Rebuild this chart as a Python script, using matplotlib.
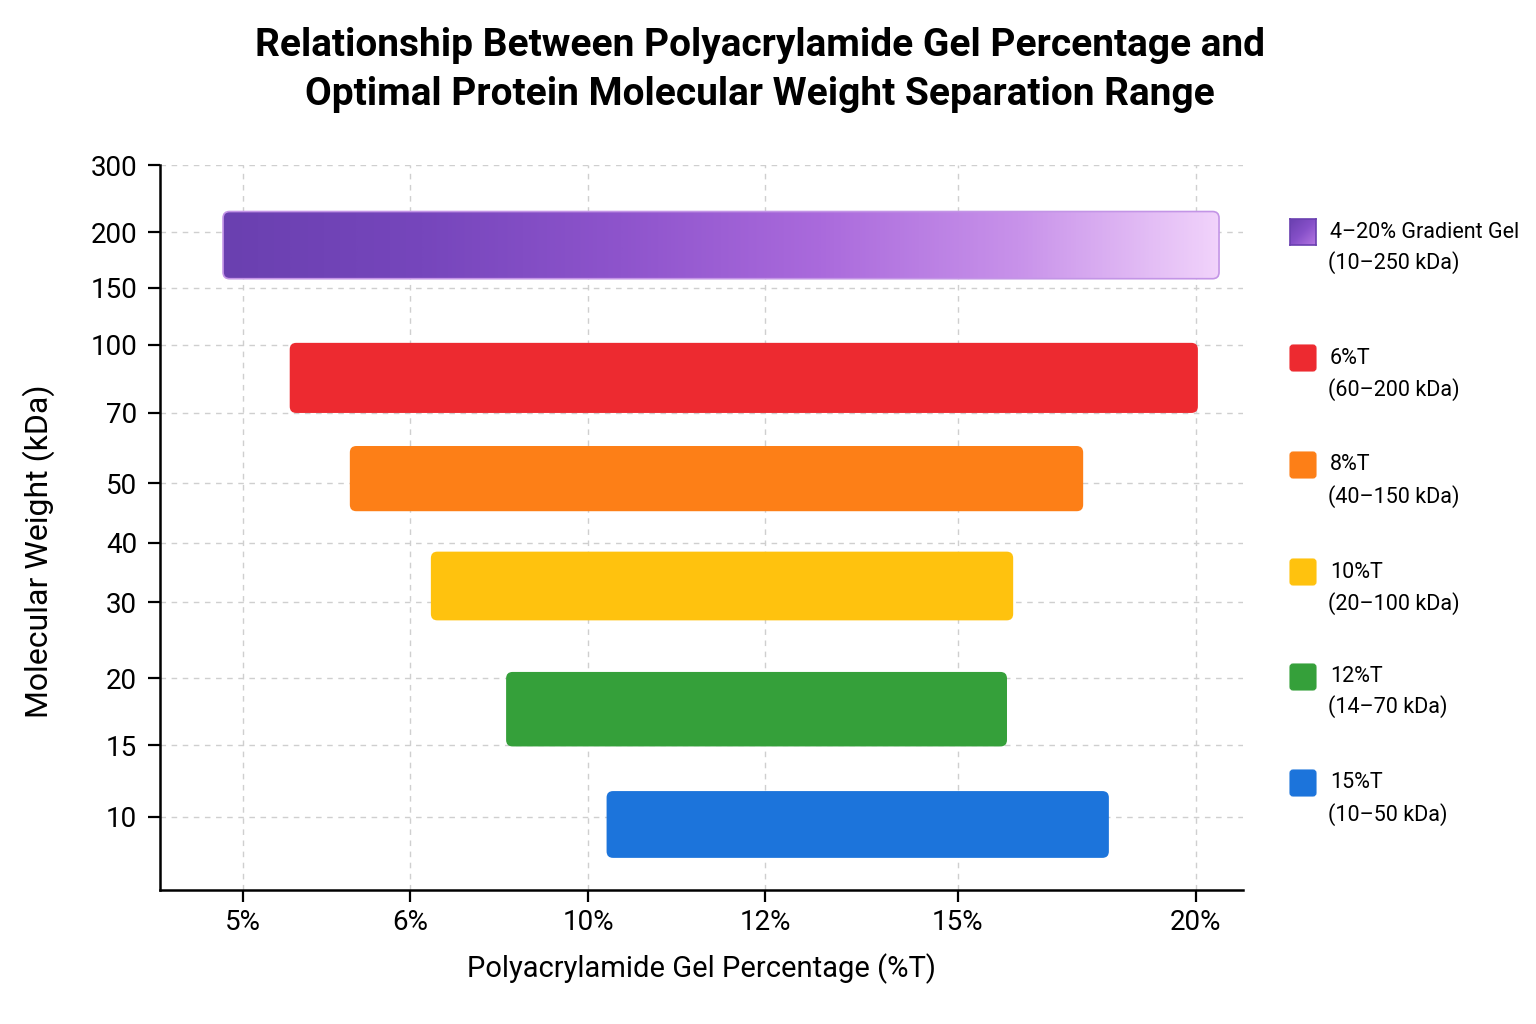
import numpy as np
import matplotlib
matplotlib.use("Agg")
import matplotlib.pyplot as plt
from matplotlib.patches import FancyBboxPatch
from matplotlib.colors import LinearSegmentedColormap

plt.rcParams['font.family'] = ['Roboto', 'DejaVu Sans']

# gels, legend text and bar extents (gel %T from/to, MW kDa bottom/top)
gel_names = ["4–20% Gradient Gel", "6%T", "8%T", "10%T", "12%T", "15%T"]
mw_ranges = ["(10–250 kDa)", "(60–200 kDa)", "(40–150 kDa)", "(20–100 kDa)", "(14–70 kDa)", "(10–50 kDa)"]
bar_start = [4.88, 5.28, 5.64, 6.47, 8.16, 10.21]
bar_end = [20.49, 20.04, 17.63, 16.16, 16.03, 18.17]
bar_bottom = [158, 70, 45.3, 27.6, 14.9, 7.2]
bar_top = [231, 101.7, 60.6, 38.5, 20.8, 11.8]
bar_colors = [None, "#ED2A30", "#FD7F17", "#FFC20E", "#35A03A", "#1C74DB"]
gradient_colors = ["#6a40b0", "#7646bc", "#8e54cc", "#aa6adc", "#c892ea", "#f1d3fb"]

x_ticks = [5, 6, 10, 12, 15, 20]
x_ticklabels = ["5%", "6%", "10%", "12%", "15%", "20%"]
y_ticks = [300, 200, 150, 100, 70, 50, 40, 30, 20, 15, 10]

# axes are stretched piecewise (neither linear nor log)
x_anchor_vals = [4.5, 5, 6, 10, 12, 15, 20, 21]
x_anchor_pos = [0.0, 0.0766, 0.2308, 0.3952, 0.5586, 0.7368, 0.9566, 1.0]
y_anchor_vals = [5, 10, 15, 20, 30, 40, 50, 70, 100, 150, 200, 300]
y_anchor_pos = [0.0, 0.1007, 0.2, 0.2924, 0.397, 0.479, 0.561, 0.658, 0.752, 0.831, 0.907, 1.0]

# legend rows (first/second text line, px from top)
legend_row1 = [232, 358, 465, 572, 677, 783]
legend_row2 = [263, 390, 497, 604, 707, 815]

W, H = 1536, 1024
fig = plt.figure(figsize=(W / 100, H / 100), dpi=100)
ax_l, ax_r, ax_t, ax_b = 160, 1243, 165, 890
ax = fig.add_axes([ax_l / W, 1 - ax_b / H, (ax_r - ax_l) / W, (ax_b - ax_t) / H])
ax_w, ax_h = ax_r - ax_l, ax_b - ax_t

ax.set_xscale('function', functions=(lambda v: np.interp(v, x_anchor_vals, x_anchor_pos),
                                     lambda p: np.interp(p, x_anchor_pos, x_anchor_vals)))
ax.set_yscale('function', functions=(lambda v: np.interp(v, y_anchor_vals, y_anchor_pos),
                                     lambda p: np.interp(p, y_anchor_pos, y_anchor_vals)))
ax.set_xlim(4.5, 21)
ax.set_ylim(5, 300)
ax.set_autoscale_on(False)

ax.set_xticks(x_ticks)
ax.set_xticklabels(x_ticklabels)
ax.set_yticks(y_ticks)
ax.set_yticklabels([str(v) for v in y_ticks])
ax.minorticks_off()
ax.tick_params(axis='both', labelsize=20, length=8.5, width=1.6, color='black')
ax.tick_params(axis='y', pad=8)
ax.tick_params(axis='x', pad=5)

ax.grid(True, linestyle=(0, (4, 4)), color='#cfcfcf', linewidth=1)
ax.set_axisbelow(True)
for s in ['top', 'right']:
    ax.spines[s].set_visible(False)
for s in ['left', 'bottom']:
    ax.spines[s].set_linewidth(1.8)

ax.set_xlabel("Polyacrylamide Gel Percentage (%T)", fontsize=21, labelpad=13)
ax.set_ylabel("Molecular Weight (kDa)", fontsize=23)
ax.yaxis.set_label_coords(-0.097, 0.467)

# bars with rounded corners, drawn in axes coords after mapping through the scales
to_axes = ax.transData + ax.transAxes.inverted()
grad_cmap = LinearSegmentedColormap.from_list("gel_grad", gradient_colors)
for i in range(len(gel_names)):
    x0, y0 = to_axes.transform((bar_start[i], bar_bottom[i]))
    x1, y1 = to_axes.transform((bar_end[i], bar_top[i]))
    box = dict(boxstyle="round,pad=0,rounding_size=0.006", mutation_aspect=ax_w / ax_h,
               transform=ax.transAxes, zorder=3)
    if bar_colors[i] is None:
        patch = FancyBboxPatch((x0, y0), x1 - x0, y1 - y0, facecolor='none',
                               edgecolor='none', **box)
        ax.add_patch(patch)
        im = ax.imshow(np.linspace(0, 1, 512)[None, :], cmap=grad_cmap, aspect='auto',
                       extent=(x0, x1, y0, y1), transform=ax.transAxes, zorder=3,
                       interpolation='bilinear')
        im.set_clip_path(patch)
        edge = FancyBboxPatch((x0, y0), x1 - x0, y1 - y0, facecolor='none',
                              edgecolor='#c395e6', linewidth=1.2, **box)
        edge.set_zorder(4)
        ax.add_patch(edge)
    else:
        ax.add_patch(FancyBboxPatch((x0, y0), x1 - x0, y1 - y0, facecolor=bar_colors[i],
                                    edgecolor='none', **box))
ax.set_xlim(4.5, 21)
ax.set_ylim(5, 300)

# legend on the right
sq = 26
for i in range(len(gel_names)):
    cy = legend_row1[i]
    left = 1290 / W
    bottom = 1 - (cy + sq / 2) / H
    if bar_colors[i] is None:
        lax = fig.add_axes([left, bottom, sq / W, sq / H])
        gx, gy = np.meshgrid(np.linspace(0, 1, 40), np.linspace(0, 1, 40))
        lax.imshow((gx + gy) / 2, cmap=LinearSegmentedColormap.from_list(
            "lg", ["#6a40b0", "#8650c8", "#b476e2"]), aspect='auto', interpolation='bilinear')
        lax.set_xticks([])
        lax.set_yticks([])
        for s in lax.spines.values():
            s.set_color('#6a40b0')
            s.set_linewidth(1.2)
    else:
        fig.add_artist(FancyBboxPatch((left, bottom), sq / W, sq / H,
                                      boxstyle="round,pad=0,rounding_size=0.002",
                                      mutation_aspect=W / H, transform=fig.transFigure,
                                      facecolor=bar_colors[i], edgecolor=bar_colors[i],
                                      linewidth=0.8))
    fig.text(1330 / W, 1 - cy / H, gel_names[i], fontsize=15.5, va='center', ha='left')
    fig.text(1328 / W, 1 - legend_row2[i] / H, mw_ranges[i], fontsize=15.5, va='center', ha='left')

fig.text(760 / W, 1 - 70 / H,
         "Relationship Between Polyacrylamide Gel Percentage and\n"
         "Optimal Protein Molecular Weight Separation Range",
         ha='center', va='center', fontsize=28, fontweight='bold', linespacing=1.4)

fig.savefig("out.png", dpi=100, facecolor='white')
